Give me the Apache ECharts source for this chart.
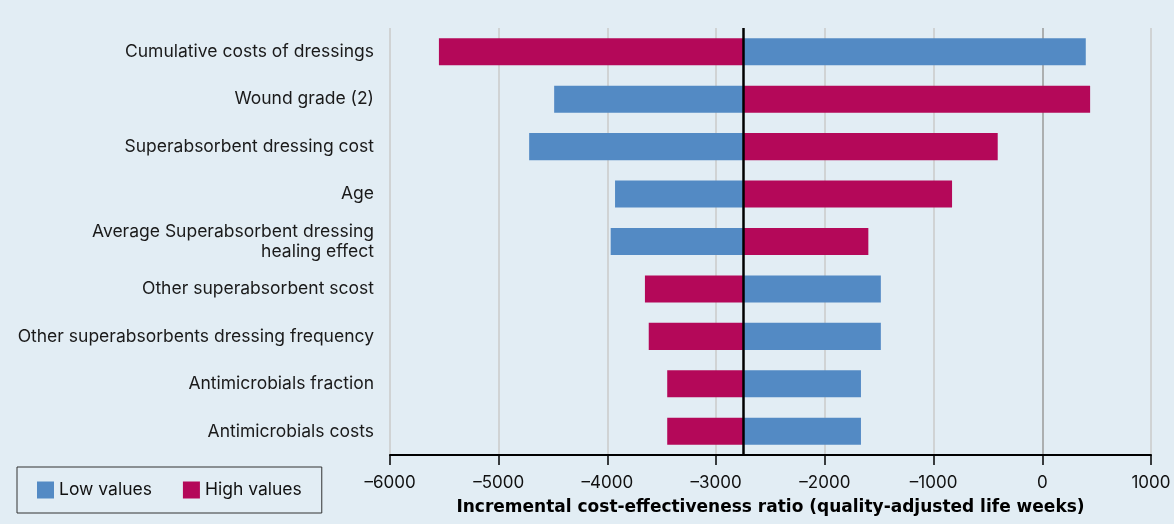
<!DOCTYPE html>
<html>
<head>
<meta charset="utf-8">
<script src="https://cdn.jsdelivr.net/npm/echarts@6/dist/echarts.min.js"></script>
<style>
html,body{margin:0;padding:0;background:#e2edf4;}
#chart{width:1174px;height:524px;}
</style>
</head>
<body>
<div id="chart"></div>
<script>
const categories = [
  'Cumulative costs of dressings',
  'Wound grade (2)',
  'Superabsorbent dressing cost',
  'Age',
  'Average Superabsorbent dressing\nhealing effect',
  'Other superabsorbent scost',
  'Other superabsorbents dressing frequency',
  'Antimicrobials fraction',
  'Antimicrobials costs'
];
const lowValues  = [400, -4490, -4720, -3930, -3970, -1485, -1485, -1668, -1668];
const highValues = [-5550, 440, -410, -830, -1600, -3655, -3620, -3450, -3450];
const baseValue = -2750;
const xTickValues = [-6000, -5000, -4000, -3000, -2000, -1000, 0, 1000];

const FONT = 'Inter, Liberation Sans, Arial, sans-serif';
const BOLD_FONT = 'DejaVu Sans, Liberation Sans, Arial, sans-serif';
const BLUE = '#538ac4';
const PINK = '#b40859';

function renderItem(params, api) {
  const v = api.value(0);
  const c = api.value(1);
  const p0 = api.coord([baseValue, c]);
  const p1 = api.coord([v, c]);
  const h = api.size([0, 1])[1] * 0.57;
  return {
    type: 'rect',
    shape: { x: Math.min(p0[0], p1[0]), y: p0[1] - h / 2, width: Math.abs(p1[0] - p0[0]), height: h },
    style: { fill: api.visual('color') }
  };
}

const splitColors = xTickValues.map(v => v === 0 ? '#9a9a9a' : '#cacaca');

const chart = echarts.init(document.getElementById('chart'), null, { renderer: 'canvas' });
chart.setOption({
  backgroundColor: '#e2edf4',
  animation: false,
  textStyle: { fontFamily: FONT },
  grid: { left: 390, right: 23, top: 28, bottom: 69, containLabel: false },
  legend: {
    left: 17, top: 467,
    orient: 'horizontal',
    itemWidth: 17, itemHeight: 17, itemGap: 31,
    padding: [14, 20, 14, 20],
    borderColor: '#333', borderWidth: 1,
    textStyle: { fontSize: 17.5, color: '#111', fontFamily: FONT },
    data: [{ name: 'Low values', icon: 'rect' }, { name: 'High values', icon: 'rect' }]
  },
  xAxis: {
    type: 'value', min: -6000, max: 1000, interval: 1000,
    axisLine: { show: true, lineStyle: { color: '#000', width: 2 } },
    axisTick: { show: true, length: 10, lineStyle: { color: '#000', width: 1.5 } },
    axisLabel: {
      fontSize: 17, color: '#111', margin: 19, fontFamily: FONT,
      formatter: v => String(v).replace('-', '\u2013')
    },
    splitLine: { show: true, lineStyle: { color: splitColors, width: 1.5 } },
    name: 'Incremental cost-effectiveness ratio (quality-adjusted life weeks)',
    nameLocation: 'middle', nameGap: 44,
    nameTextStyle: { fontWeight: 'bold', fontSize: 17, color: '#000', fontFamily: BOLD_FONT }
  },
  yAxis: {
    type: 'category', inverse: true, data: categories,
    axisLine: { show: false }, axisTick: { show: false },
    axisLabel: { fontSize: 17.5, color: '#1a1a1a', margin: 16, lineHeight: 20, fontFamily: FONT },
    splitLine: { show: false }
  },
  series: [
    {
      name: 'Low values', type: 'custom', renderItem,
      itemStyle: { color: BLUE },
      encode: { x: 0, y: 1 },
      data: lowValues.map((v, i) => [v, i])
    },
    {
      name: 'High values', type: 'custom', renderItem,
      itemStyle: { color: PINK },
      encode: { x: 0, y: 1 },
      data: highValues.map((v, i) => [v, i]),
      markLine: {
        silent: true, symbol: ['none', 'none'],
        label: { show: false },
        lineStyle: { color: '#000', width: 2.5, type: 'solid' },
        data: [{ xAxis: baseValue }]
      }
    }
  ]
});
</script>
</body>
</html>
